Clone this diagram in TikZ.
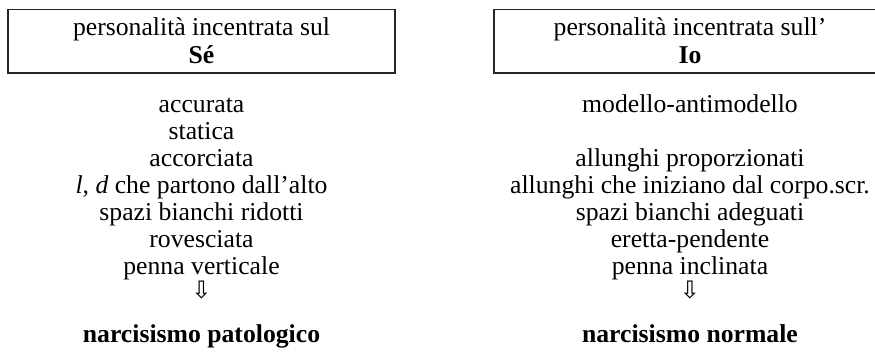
\documentclass[tikz,border=0pt]{standalone}
\usepackage{fontspec}
\setmainfont{Liberation Serif}
\newfontfamily\symfont{DejaVu Sans}
\begin{document}
\begin{tikzpicture}[x=1pt,y=-1pt,
  txt/.style={anchor=base,inner sep=0pt,font=\fontsize{25.7}{27}\selectfont},
  bold/.style={txt,font=\fontsize{25.7}{27}\selectfont\bfseries},
  downarrow/.style={anchor=center,inner sep=0pt,font=\symfont\fontsize{24}{24}\selectfont},
  frame/.style={draw=black!85,line width=1.7pt}]
\useasboundingbox (0,0) rectangle (875,356);
% header boxes (the right one runs off the page edge)
\begin{scope}
\clip (0,0) rectangle (875,356);
\draw[frame] (8,9.5) rectangle (395,73);
\draw[frame] (494,9.5) rectangle (888,73);
\end{scope}
% left column
\node[txt]  (lh1) at (201.5,35) {personalità incentrata sul};
\node[bold] (lh2) at (201.5,63) {Sé};
\node[txt] (l1) at (201.5,112) {accurata};
\node[txt] (l2) at (201.5,139) {statica};
\node[txt] (l3) at (201.5,166) {accorciata};
\node[txt] (l4) at (201.5,193) {\textit{l}, \textit{d} che partono dall’alto};
\node[txt] (l5) at (201.5,220) {spazi bianchi ridotti};
\node[txt] (l6) at (201.5,247) {rovesciata};
\node[txt] (l7) at (201.5,274) {penna verticale};
\node[downarrow] (la) at (201.5,290) {⇩};
\node[bold] (lr) at (201.5,342) {narcisismo patologico};
% right column
\node[txt]  (rh1) at (690,35) {personalità incentrata sull’};
\node[bold] (rh2) at (690,63) {Io};
\node[txt] (r1) at (690,112) {modello-antimodello};
\node[txt] (r3) at (690,166) {allunghi proporzionati};
\node[txt] (r4) at (690,193) {allunghi che iniziano dal corpo.scr.};
\node[txt] (r5) at (690,220) {spazi bianchi adeguati};
\node[txt] (r6) at (690,247) {eretta-pendente};
\node[txt] (r7) at (690,274) {penna inclinata};
\node[downarrow] (ra) at (690,290) {⇩};
\node[bold] (rr) at (690,342) {narcisismo normale};
\end{tikzpicture}
\end{document}
